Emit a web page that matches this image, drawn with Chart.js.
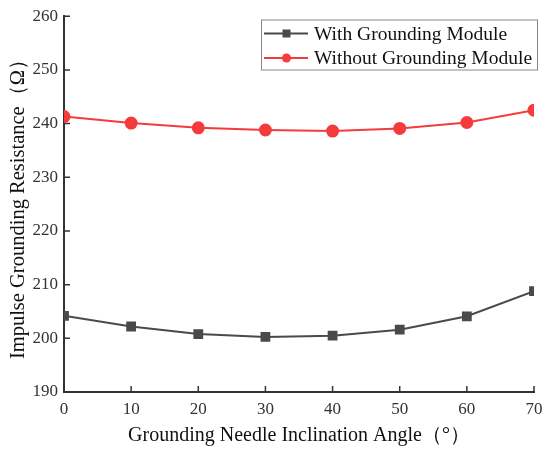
<!DOCTYPE html>
<html>
<head>
<meta charset="utf-8">
<script src="https://cdn.jsdelivr.net/npm/chart.js@4/dist/chart.umd.min.js"></script>
<style>
  html, body { margin: 0; padding: 0; background: #fff; }
  #wrap { width: 550px; height: 452px; }
</style>
</head>
<body>
<div id="wrap"><canvas id="chart" width="550" height="452"></canvas></div>
<script>
// inclination angle (deg)
var angles = [0, 10, 20, 30, 40, 50, 60, 70];
// impulse grounding resistance (ohm)
var withModule = [204.2, 202.2, 200.8, 200.25, 200.5, 201.6, 204.1, 208.8];
var withoutModule = [241.3, 240.1, 239.2, 238.8, 238.6, 239.1, 240.2, 242.5];
var seriesNames = ['With Grounding Module', 'Without Grounding Module'];

var serif = "'Liberation Serif', 'Times New Roman', serif";

function toPoints(ys) {
    var pts = [];
    for (var i = 0; i < angles.length; i++) {
        pts.push({ x: angles[i], y: ys[i] });
    }
    return pts;
}

// ticks pointing into the plot area, like Origin does
var innerTicks = {
    id: 'innerTicks',
    beforeDatasetsDraw: function (chart) {
        var c = chart.ctx, xs = chart.scales.x, ys = chart.scales.y;
        c.save();
        c.strokeStyle = '#333';
        c.lineWidth = 1.5;
        c.beginPath();
        xs.ticks.forEach(function (t) {
            var px = xs.getPixelForValue(t.value);
            c.moveTo(px, xs.top);
            c.lineTo(px, xs.top - 6);
        });
        ys.ticks.forEach(function (t) {
            var py = ys.getPixelForValue(t.value);
            c.moveTo(ys.right, py);
            c.lineTo(ys.right + 6, py);
        });
        c.stroke();
        c.restore();
    }
};

// boxed legend with line + marker samples
var boxLegend = {
    id: 'boxLegend',
    afterDraw: function (chart) {
        var c = chart.ctx;
        var left = 261.5, top = 20, w = 276, h = 50;
        c.save();
        c.strokeStyle = '#888';
        c.lineWidth = 1;
        c.strokeRect(left, top, w, h);
        c.font = '19.5px ' + serif;
        c.textBaseline = 'middle';
        chart.data.datasets.forEach(function (ds, i) {
            var y = 33.5 + i * 24.5;
            c.strokeStyle = ds.borderColor;
            c.lineWidth = 2;
            c.beginPath();
            c.moveTo(264, y);
            c.lineTo(308, y);
            c.stroke();
            c.fillStyle = ds.pointBackgroundColor;
            if (ds.pointStyle === 'rect') {
                c.fillRect(286.5 - 4, y - 4, 8, 8);
            } else {
                c.beginPath();
                c.arc(286.5, y, 4.5, 0, Math.PI * 2);
                c.fill();
            }
            c.fillStyle = '#111';
            c.fillText(ds.label, 314, y + 1);
        });
        c.restore();
    }
};

const ctx = document.getElementById('chart').getContext('2d');
const myChart = new Chart(ctx, {
    type: 'line',
    data: {
        datasets: [{
            label: seriesNames[0],
            data: toPoints(withModule),
            borderColor: '#4a4a4a',
            backgroundColor: '#4a4a4a',
            pointBackgroundColor: '#4a4a4a',
            pointBorderColor: '#4a4a4a',
            pointStyle: 'rect',
            pointRadius: 5.5,
            borderWidth: 2,
            fill: false
        },
        {
            label: seriesNames[1],
            data: toPoints(withoutModule),
            borderColor: '#f53b3b',
            backgroundColor: '#f53b3b',
            pointBackgroundColor: '#f53b3b',
            pointBorderColor: '#f53b3b',
            pointStyle: 'circle',
            pointRadius: 5.5,
            borderWidth: 2,
            fill: false
        }]
    },
    options: {
        responsive: false,
        animation: false,
        devicePixelRatio: 1,
        layout: { padding: { top: 14, right: 16, left: 0, bottom: 0 } },
        plugins: {
            legend: { display: false },
            tooltip: { enabled: false }
        },
        scales: {
            x: {
                type: 'linear',
                min: 0,
                max: 70,
                ticks: { stepSize: 10, color: '#333', padding: 7, font: { family: serif, size: 17 } },
                grid: { display: false, drawTicks: false },
                border: { color: '#333', width: 2 },
                title: {
                    display: true,
                    text: 'Grounding Needle Inclination Angle（°）',
                    color: '#111',
                    font: { family: serif, size: 20 },
                    padding: { top: 0, bottom: 4 }
                },
                afterFit: function (s) { s.height = 60; }
            },
            y: {
                min: 190,
                max: 260,
                ticks: { stepSize: 10, color: '#333', padding: 6, font: { family: serif, size: 17 } },
                grid: { display: false, drawTicks: false },
                border: { color: '#333', width: 2 },
                title: {
                    display: true,
                    text: 'Impulse Grounding Resistance（Ω）',
                    color: '#111',
                    font: { family: serif, size: 20.5 },
                    padding: { top: 6, bottom: 2 }
                },
                afterFit: function (s) { s.width = 64; }
            }
        }
    },
    plugins: [innerTicks, boxLegend]
});
</script>
</body>
</html>
